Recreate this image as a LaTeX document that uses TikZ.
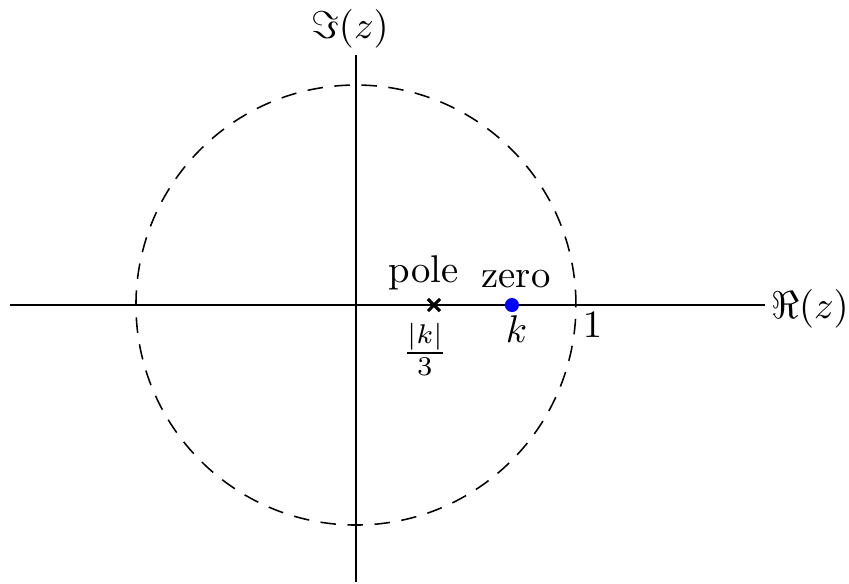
\documentclass[tikz,border=0pt]{standalone}
\usetikzlibrary{calc}
\begin{document}
\begin{tikzpicture}[
  axis/.style={line width=0.4pt},
  unitcircle/.style={dash pattern=on 4pt off 3pt, line width=0.4pt},
  lbl/.style={inner sep=0pt},
  crossmark/.style={line width=0.8pt}
]
\useasboundingbox (-3.236,-2.536) rectangle (4.482,2.773);
\coordinate (O) at (0,0);
\coordinate (xl) at (-3.145,0);
\coordinate (xr) at (3.718,0);
\coordinate (yb) at (0,-2.518);
\coordinate (yt) at (0,2.273);
\draw[axis] (xl) -- (xr);
\draw[axis] (yb) -- (yt);
\node[lbl] (re) at (4.127,-0.036) {$\Re(z)$};
\node[lbl] (im) at (-0.055,2.514) {$\Im(z)$};
\draw[unitcircle] (O) circle (2);
% pole
\coordinate (P) at (0.709,0);
\draw[crossmark] ($(P)+(-0.055,-0.055)$) -- ($(P)+(0.055,0.055)$);
\draw[crossmark] ($(P)+(-0.055,0.055)$) -- ($(P)+(0.055,-0.055)$);
\node[lbl,anchor=base] (polelbl) at (0.614,0.209) {pole};
\node[lbl] (polepos) at (0.627,-0.405) {$\frac{|k|}{3}$};
% zero
\node[circle,fill=blue,inner sep=0pt,minimum size=0.128cm] (Z) at (1.418,0) {};
\node[lbl,anchor=base] (zerolbl) at (1.455,0.155) {zero};
\node[lbl,anchor=base] (zeropos) at (1.459,-0.345) {$k$};
\node[lbl,anchor=base] (one) at (2.15,-0.291) {$1$};
\end{tikzpicture}
\end{document}
